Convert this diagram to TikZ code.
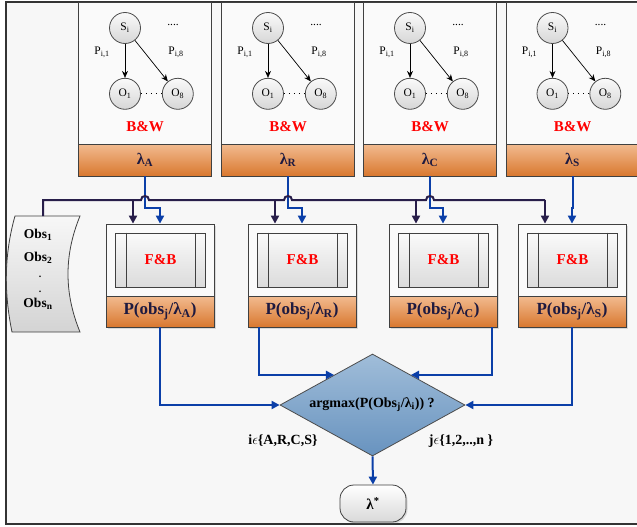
\documentclass[tikz,border=0pt]{standalone}
\usepackage{fontspec}
\setmainfont{Liberation Serif}
\usetikzlibrary{arrows.meta, positioning, shapes.geometric, shadows}

\definecolor{bgfill}{HTML}{F7F7F7}
\definecolor{orangetop}{HTML}{F2BB90}
\definecolor{orangebot}{HTML}{D9782F}
\definecolor{navytext}{HTML}{1E1A40}
\definecolor{busline}{HTML}{281E4A}
\definecolor{flowblue}{HTML}{0B3FA8}
\definecolor{diamtop}{HTML}{A0BDD9}
\definecolor{diambot}{HTML}{6893BF}

\begin{document}
\begin{tikzpicture}[x=1pt, y=-1pt,
        >={Triangle[length=8pt,width=8pt]},
        every node/.style={font=\bfseries},
        hmmbox/.style={
            rectangle, draw=black!75, line width=0.8pt,
            fill=white!98!black,
            minimum width=133pt, minimum height=142pt, inner sep=0pt
            },
        band/.style={
            rectangle, draw=black!75, line width=0.8pt,
            top color=orangetop, bottom color=orangebot,
            minimum height=32pt, inner sep=0pt, text=navytext
            },
        state/.style={
            circle, draw=black!70, line width=0.8pt,
            top color=black!2, bottom color=black!16,
            minimum size=31pt, inner sep=0pt,
            node distance=34pt,
            font=\fontsize{11.5}{12}\selectfont
            },
        plabel/.style={inner sep=0pt, font=\fontsize{11.5}{12}\selectfont},
        statearrow/.style={-{Stealth[length=7pt,width=6pt]}, line width=0.7pt},
        redtext/.style={text=red, font=\bfseries\fontsize{15}{17}\selectfont},
        fbbox/.style={
            rectangle, draw=black!75, line width=0.8pt, fill=white!98!black,
            minimum width=108pt, minimum height=103pt, inner sep=0pt,
            drop shadow={shadow xshift=1.5pt, shadow yshift=-1.5pt, opacity=0.25}
            },
        procbox/.style={
            rectangle, draw=black!75, line width=0.8pt,
            top color=black!2, bottom color=black!14,
            minimum width=90pt, minimum height=54pt, inner sep=0pt
            },
        blueline/.style={draw=flowblue, line width=2pt},
        darkline/.style={draw=busline, line width=2pt},
        obsdoc/.style={
            draw=black!75, line width=0.8pt,
            top color=black!3, bottom color=black!17
            },
        obstext/.style={inner sep=0pt, font=\bfseries\fontsize{13.5}{15}\selectfont},
        obsdot/.style={inner sep=0pt, text height=2pt, text depth=0pt,
            font=\bfseries\fontsize{10}{11}\selectfont},
        decision/.style={
            diamond, draw=black!70, line width=0.8pt,
            top color=diamtop, bottom color=diambot,
            minimum width=185pt, minimum height=102pt, inner sep=0pt
            },
        setlabel/.style={inner sep=0pt, font=\bfseries\fontsize{14}{16}\selectfont},
        terminal/.style={
            rectangle, rounded corners=14pt, draw=black!75, line width=0.8pt,
            top color=white, bottom color=black!15,
            minimum width=66pt, minimum height=37pt, inner sep=0pt,
            font=\bfseries\fontsize{15}{17}\selectfont,
            drop shadow={shadow xshift=1.5pt, shadow yshift=-1.5pt, opacity=0.25}
            }
    ]
    \useasboundingbox (0,0) rectangle (637,527);
    \fill[white] (0,0) rectangle (637,527);
    \draw[black!80, line width=2pt, fill=bgfill] (6,2) rectangle (660,524);
    \coordinate (bus) at (0,200);

    % four models: Baum-Welch boxes and forward-backward boxes
    \foreach \n/\tx/\fx in {A/145/160, R/288/302, C/430/443, S/572.5/572}{
        \node[hmmbox] (top\n) at (\tx,73) {};
        \node[band, minimum width=133pt, font=\bfseries\fontsize{16}{18}\selectfont]
            (lam\n) at (\tx,160) {λ\textsubscript{\n}};
        \node[state] (si\n) at (\tx-20,28) {S\textsubscript{i}};
        \node[state, below=of si\n] (oa\n) {O\textsubscript{1}};
        \node[state, right=21pt of oa\n] (ob\n) {O\textsubscript{8}};
        \draw[statearrow] (si\n) -- (oa\n);
        \draw[statearrow] (si\n) -- (ob\n);
        \draw[line width=0.8pt, dash pattern=on 1pt off 4pt] (oa\n) -- (ob\n);
        \node[plabel] (pa\n) at (\tx-43,52) {P\textsubscript{i,1}};
        \node[plabel] (pb\n) at (\tx+31,52) {P\textsubscript{i,8}};
        \node[plabel] (dots\n) at (\tx+28,25) {....};
        \node[redtext] (bw\n) at (\tx,127) {B\&W};

        \node[fbbox] (fb\n) at (\fx,275.5) {};
        \node[band, minimum width=108pt, minimum height=31pt,
            font=\bfseries\fontsize{17}{19}\selectfont]
            (p\n) at (\fx,311.5) {P(obs\textsubscript{j}/λ\textsubscript{\n})};
        \node[procbox] (proc\n) at (\fx+0.5,260) {};
        \draw[black!75, line width=0.8pt] ([xshift=11pt]proc\n.north west) -- ([xshift=11pt]proc\n.south west);
        \draw[black!75, line width=0.8pt] ([xshift=-11pt]proc\n.north east) -- ([xshift=-11pt]proc\n.south east);
        \node[redtext] (fbt\n) at (proc\n) {F\&B};

        \coordinate (dk\n) at ([xshift=-27pt]fb\n.north);
        \draw[blueline, ->] (lam\n.south) -- ++(0,32) -| (fb\n.north);
        \draw[darkline, ->] (dk\n |- bus) -- (dk\n);
    }

    % observation sequence
    \draw[obsdoc] (15,216) -- (80,216) .. controls (64,255) and (64,293) .. (80,332)
        -- (12,332) .. controls (4,293) and (4,255) .. (15,216) -- cycle;
    \coordinate (obstop) at (43,216);
    \node[obstext] (obs1) at (38,235) {Obs\textsubscript{1}};
    \node[obstext] (obs2) at (38,258) {Obs\textsubscript{2}};
    \node[obsdot] (obsd1) at (40,276) {.};
    \node[obsdot] (obsd2) at (40,291) {.};
    \node[obstext] (obsn) at (38,304) {Obs\textsubscript{n}};

    % bus with line jumps
    \draw[darkline] (obstop) -- (obstop |- bus)
        foreach \hx in {145,288,430}{
            -- (\hx-4,200) .. controls (\hx-4,194.7) and (\hx+4,194.7) .. (\hx+4,200)
        } -- (dkS |- bus);

    % decision
    \node[decision] (diam) at (372.5,405) {};
    \node[inner sep=0pt, font=\bfseries\fontsize{14}{16}\selectfont] (dtext) at (372,405)
        {argmax(P(Obs\textsubscript{j}/λ\textsubscript{i})) ?};
    \node[setlabel] (iset) at (283,441) {i\(\epsilon\)\{A,R,C,S\}};
    \node[setlabel] (jset) at (461,441) {j\(\epsilon\)\{1,2,..,n \}};

    \draw[blueline, ->] (pA.south) |- (diam.west);
    \draw[blueline, ->] ([xshift=11pt]pR.south west) |- (diam.142);
    \draw[blueline, ->] ([xshift=-5pt]pC.south east) |- (diam.38);
    \draw[blueline, ->] (pS.south) |- (diam.east);

    \node[terminal] (lstar) at (373,503.5) {λ\textsuperscript{*}};
    \draw[blueline, ->] (diam.south) -- (lstar.north);
\end{tikzpicture}
\end{document}
